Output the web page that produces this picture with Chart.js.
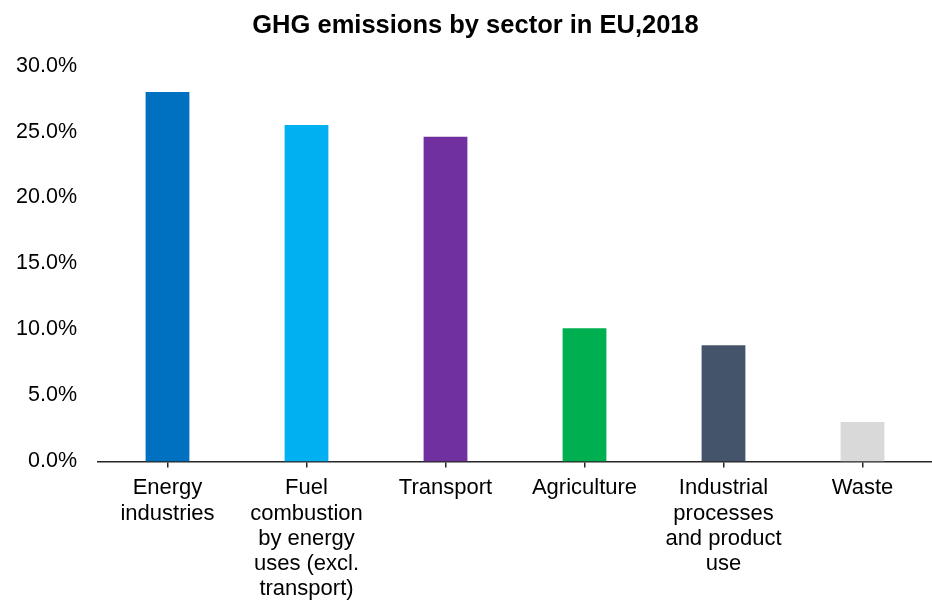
<!DOCTYPE html>
<html>
<head>
<meta charset="utf-8">
<title>GHG emissions by sector in EU, 2018</title>
<script src="https://cdn.jsdelivr.net/npm/chart.js@4/dist/chart.umd.min.js"></script>
<style>
    html, body { margin: 0; padding: 0; background: #fff; }
    #chartWrap { width: 932px; height: 604px; }
</style>
</head>
<body>
<div id="chartWrap">
    <canvas id="ghgChart" width="932" height="604"></canvas>
</div>
<script>
// Sector shares of total EU greenhouse gas emissions (%)
const sectors = [
    ['Energy', 'industries'],
    ['Fuel', 'combustion', 'by energy', 'uses (excl.', 'transport)'],
    'Transport',
    'Agriculture',
    ['Industrial', 'processes', 'and product', 'use'],
    'Waste'
];
const shares = [28.0, 25.5, 24.6, 10.1, 8.8, 3.0];
const sectorColors = ['#0070C0', '#00B0F0', '#7030A0', '#00B050', '#44546A', '#D9D9D9'];

const yTicks = [0, 5, 10, 15, 20, 25, 30];

Chart.defaults.font.family = 'Arial, "Liberation Sans", sans-serif';
Chart.defaults.color = '#000';

const ctx = document.getElementById('ghgChart').getContext('2d');

const ghgChart = new Chart(ctx, {
    type: 'bar',
    data: {
        labels: sectors,
        datasets: [{
            label: 'Share of emissions',
            data: shares,
            backgroundColor: sectorColors,
            borderWidth: 0,
            categoryPercentage: 1,
            barPercentage: 0.315
        }]
    },
    options: {
        responsive: false,
        animation: false,
        layout: {
            padding: { left: 16, right: -3, top: 0, bottom: -6 }
        },
        plugins: {
            legend: { display: false },
            tooltip: { enabled: false },
            title: {
                display: true,
                text: 'GHG emissions by sector in EU,2018',
                color: '#000',
                font: { size: 25.5, weight: 'bold' },
                padding: { top: 11, bottom: 24 }
            }
        },
        scales: {
            x: {
                grid: {
                    display: true,
                    drawOnChartArea: false,
                    offset: false,
                    tickLength: 6,
                    tickColor: '#262626',
                    lineWidth: 1.5
                },
                border: { display: true, color: '#262626', width: 1.5 },
                ticks: {
                    padding: 8,
                    maxRotation: 0,
                    autoSkip: false,
                    font: { size: 22, lineHeight: 1.15 }
                }
            },
            y: {
                min: yTicks[0],
                max: yTicks[yTicks.length - 1],
                afterBuildTicks: (axis) => {
                    axis.ticks = yTicks.map(v => ({ value: v }));
                },
                // fixed axis width so the plot starts right after the labels
                afterFit: (axis) => {
                    axis.width = 82;
                },
                grid: { display: false, drawTicks: false },
                border: { display: false },
                ticks: {
                    padding: 21,
                    font: { size: 21.5 },
                    callback: (value) => value.toFixed(1) + '%'
                }
            }
        }
    }
});
</script>
</body>
</html>
